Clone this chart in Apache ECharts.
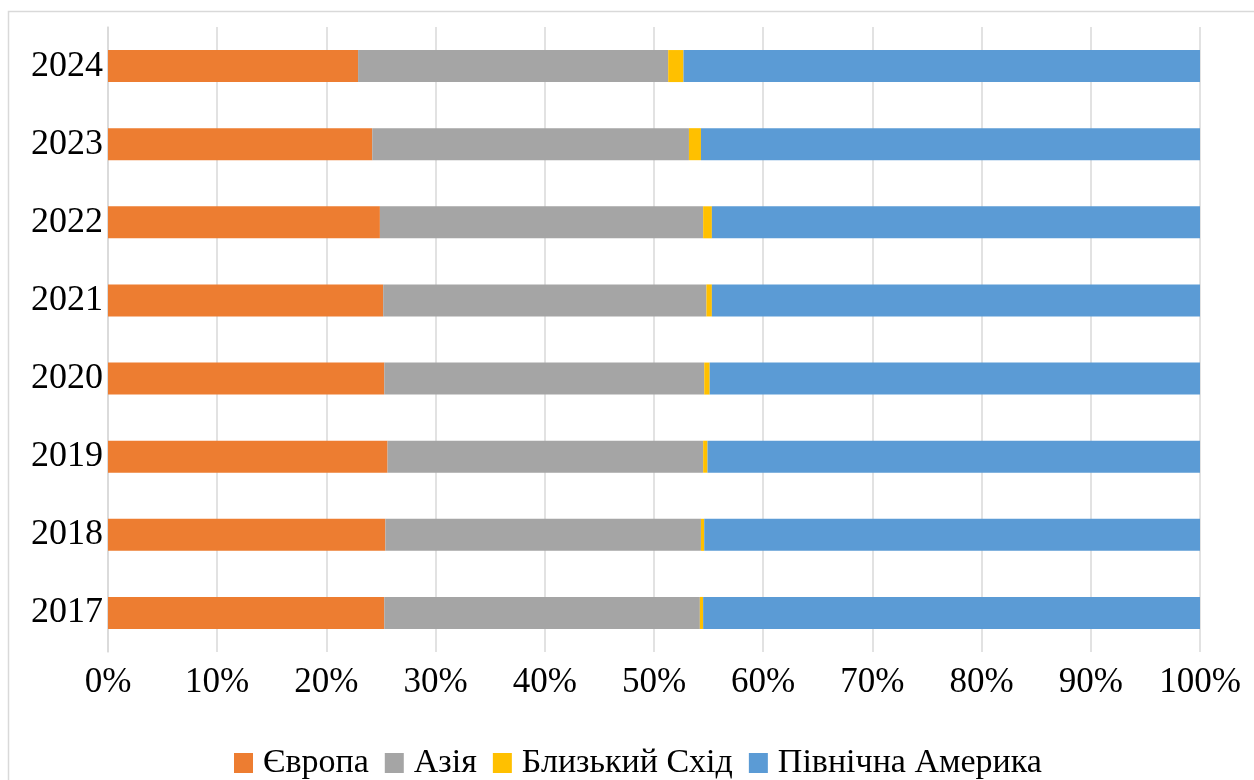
<!DOCTYPE html>
<html>
<head>
<meta charset="utf-8">
<script src="https://cdn.jsdelivr.net/npm/echarts@6/dist/echarts.min.js"></script>
<style>
  html, body { margin: 0; padding: 0; background: #fff; }
  #chart { width: 1254px; height: 780px; }
</style>
</head>
<body>
<div id="chart"></div>
<script>
// Years along the category axis (bottom to top)
const years = ['2017', '2018', '2019', '2020', '2021', '2022', '2023', '2024'];

// Regional shares, % of the total for each year
const europe       = [25.3, 25.4, 25.6, 25.3, 25.2, 24.9, 24.2, 22.9];
const asia         = [28.9, 28.9, 28.9, 29.3, 29.6, 29.6, 29.0, 28.4];
const middleEast   = [0.3, 0.3, 0.4, 0.5, 0.5, 0.8, 1.1, 1.4];
const northAmerica = [45.5, 45.4, 45.1, 44.9, 44.7, 44.7, 45.7, 47.3];

const seriesNames = ['Європа', 'Азія', 'Близький Схід', 'Північна Америка'];
const seriesColors = ['#ED7D31', '#A5A5A5', '#FFC000', '#5B9BD5'];
const seriesData = [europe, asia, middleEast, northAmerica];

const FONT = '"Liberation Serif", "Times New Roman", serif';

const chart = echarts.init(document.getElementById('chart'), null, { renderer: 'canvas' });

chart.setOption({
  animation: false,
  backgroundColor: '#ffffff',
  graphic: [{
    type: 'rect',
    silent: true,
    z: -10,
    shape: { x: 8.5, y: 11.5, width: 1300, height: 800 },
    style: { fill: 'none', stroke: '#d9d9d9', lineWidth: 1.5 }
  }],
  grid: { left: 108, right: 54, top: 27, bottom: 128 },
  legend: {
    data: seriesNames,
    left: 229,
    top: 741,
    itemWidth: 19,
    itemHeight: 20,
    itemGap: 16,
    icon: 'rect',
    textStyle: { fontFamily: FONT, fontSize: 34, color: '#000', padding: [0, 0, 0, 5] }
  },
  xAxis: {
    type: 'value',
    min: 0,
    max: 100,
    interval: 10,
    axisLine: { show: false },
    axisTick: { show: false },
    splitLine: { lineStyle: { color: '#d9d9d9', width: 1.5 } },
    axisLabel: {
      formatter: '{value}%',
      fontFamily: FONT,
      fontSize: 35,
      color: '#000',
      margin: 13
    }
  },
  yAxis: {
    type: 'category',
    data: years,
    axisLine: { show: true, lineStyle: { color: '#d9d9d9', width: 1.5 } },
    axisTick: { show: false },
    axisLabel: {
      fontFamily: FONT,
      fontSize: 36,
      color: '#000',
      margin: 5
    }
  },
  series: seriesNames.map((name, i) => ({
    name: name,
    type: 'bar',
    stack: 'total',
    barCategoryGap: '59%',
    itemStyle: { color: seriesColors[i] },
    data: seriesData[i]
  }))
});
</script>
</body>
</html>
